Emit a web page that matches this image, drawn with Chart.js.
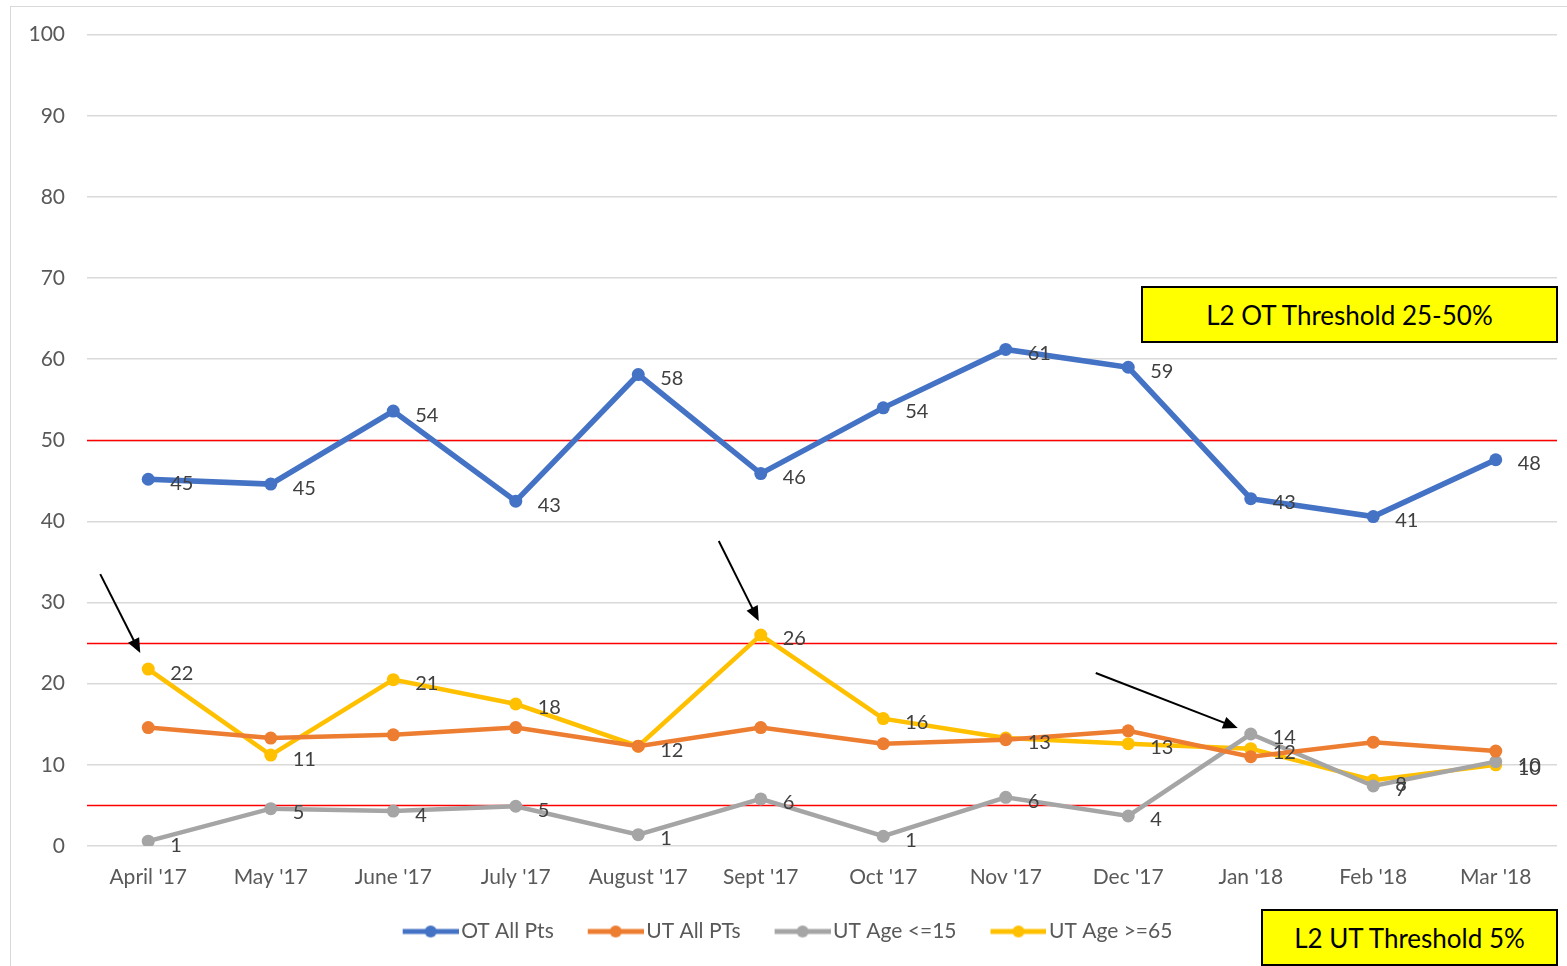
<!DOCTYPE html>
<html>
<head>
<meta charset="utf-8">
<script src="https://cdn.jsdelivr.net/npm/chart.js@4"></script>
<style>
  html, body { margin: 0; padding: 0; background: #fff; }
  #wrap { position: relative; width: 1567px; height: 966px; }
  #frame { position: absolute; left: 10px; top: 6px; width: 1560px; height: 962px; border: 1px solid #d9d9d9; box-sizing: border-box; }
  .note { position: absolute; background: #ffff00; border: 2px solid #000; box-sizing: border-box;
          font-family: Lato, "Open Sans", sans-serif; font-size: 26px; color: #000;
          display: flex; align-items: center; justify-content: center; }
</style>
</head>
<body>
<div id="wrap">
  <div id="frame"></div>
  <canvas id="trendChart" width="1567" height="966"></canvas>
  <div class="note" style="left:1141px;top:286px;width:417px;height:57px;">L2 OT Threshold 25-50%</div>
  <div class="note" style="left:1261px;top:909px;width:297px;height:57px;">L2 UT Threshold 5%</div>
</div>
<script>
// --- data ---
const months = ["April '17", "May '17", "June '17", "July '17", "August '17", "Sept '17",
                "Oct '17", "Nov '17", "Dec '17", "Jan '18", "Feb '18", "Mar '18"];
const otAllPts   = [45.2, 44.6, 53.6, 42.5, 58.1, 45.9, 54.0, 61.2, 59.0, 42.8, 40.6, 47.6];
const utAllPts   = [14.6, 13.3, 13.7, 14.6, 12.3, 14.6, 12.6, 13.1, 14.2, 11.0, 12.8, 11.7];
const utAge15    = [0.6, 4.6, 4.3, 4.9, 1.4, 5.8, 1.2, 6.0, 3.7, 13.8, 7.4, 10.4];
const utAge65    = [21.8, 11.2, 20.5, 17.5, 12.3, 26.0, 15.7, 13.3, 12.6, 12.0, 8.1, 10.0];
const thresholds = [50, 25, 5];
const yTicks     = [0, 10, 20, 30, 40, 50, 60, 70, 80, 90, 100];

const font = 'Lato, "Open Sans", sans-serif';

// legend marker: line with a dot, shifted right so it almost touches the text
const legendMarker = (color) => {
    const c = document.createElement('canvas');
    c.width = 72; c.height = 14;
    const g = c.getContext('2d');
    g.strokeStyle = color; g.lineWidth = 5;
    g.beginPath(); g.moveTo(16, 7); g.lineTo(72, 7); g.stroke();
    g.fillStyle = color;
    g.beginPath(); g.arc(44, 7, 6, 0, Math.PI * 2); g.fill();
    return c;
};

const series = [
    { label: 'OT All Pts',   data: otAllPts, color: '#4472C4', width: 5.5, labels: true },
    { label: 'UT All PTs',   data: utAllPts, color: '#ED7D31', width: 4.5, labels: false },
    { label: 'UT Age <=15',  data: utAge15,  color: '#A5A5A5', width: 4.5, labels: true },
    { label: 'UT Age >=65',  data: utAge65,  color: '#FFC000', width: 4.5, labels: true }
];

// arrows anchored to a data point (dataset, index); tail/tip are pixel offsets
const arrows = [
    { ds: 3, i: 0, tail: [-48, -95], tip: [-8, -16] },
    { ds: 3, i: 5, tail: [-42, -94], tip: [-2, -14] },
    { ds: 2, i: 9, tail: [-155, -61], tip: [-13, -6] }
];

const thresholdLines = {
    id: 'thresholdLines',
    beforeDatasetsDraw(chart) {
        const { ctx, chartArea, scales } = chart;
        ctx.save();
        ctx.strokeStyle = '#ff0000';
        ctx.lineWidth = 1.5;
        thresholds.forEach(v => {
            const y = Math.round(scales.y.getPixelForValue(v)) + 0.5;
            ctx.beginPath();
            ctx.moveTo(chartArea.left, y);
            ctx.lineTo(chartArea.right, y);
            ctx.stroke();
        });
        ctx.restore();
    }
};

const pointLabels = {
    id: 'pointLabels',
    afterDatasetsDraw(chart) {
        const { ctx } = chart;
        ctx.save();
        ctx.font = '20px ' + font;
        ctx.fillStyle = '#404040';
        ctx.textBaseline = 'middle';
        ctx.textAlign = 'left';
        chart.data.datasets.forEach((ds, di) => {
            if (!series[di].labels) return;
            chart.getDatasetMeta(di).data.forEach((pt, i) => {
                ctx.fillText(String(Math.round(ds.data[i])), pt.x + 22, pt.y + 4);
            });
        });
        ctx.restore();
    }
};

const arrowNotes = {
    id: 'arrowNotes',
    afterDraw(chart) {
        const { ctx } = chart;
        ctx.save();
        ctx.strokeStyle = '#000';
        ctx.fillStyle = '#000';
        ctx.lineWidth = 2;
        arrows.forEach(a => {
            const pt = chart.getDatasetMeta(a.ds).data[a.i];
            const x0 = pt.x + a.tail[0], y0 = pt.y + a.tail[1];
            const x1 = pt.x + a.tip[0],  y1 = pt.y + a.tip[1];
            const ang = Math.atan2(y1 - y0, x1 - x0);
            const head = 16, spread = 0.4;
            ctx.beginPath();
            ctx.moveTo(x0, y0);
            ctx.lineTo(x1 - Math.cos(ang) * head * 0.8, y1 - Math.sin(ang) * head * 0.8);
            ctx.stroke();
            ctx.beginPath();
            ctx.moveTo(x1, y1);
            ctx.lineTo(x1 - head * Math.cos(ang - spread), y1 - head * Math.sin(ang - spread));
            ctx.lineTo(x1 - head * Math.cos(ang + spread), y1 - head * Math.sin(ang + spread));
            ctx.closePath();
            ctx.fill();
        });
        ctx.restore();
    }
};

new Chart(document.getElementById('trendChart'), {
    type: 'line',
    data: {
        labels: months,
        datasets: series.map(s => ({
            label: s.label,
            data: s.data,
            borderColor: s.color,
            backgroundColor: s.color,
            borderWidth: s.width,
            pointRadius: 6.5,
            pointHoverRadius: 6.5,
            pointBorderWidth: 0,
            pointStyle: 'circle',
            tension: 0,
            fill: false
        }))
    },
    options: {
        responsive: false,
        animation: false,
        layout: { padding: { left: 10, right: 10, top: 34, bottom: 14 } },
        scales: {
            y: {
                min: 0,
                max: 100,
                afterBuildTicks: (axis) => { axis.ticks = yTicks.map(v => ({ value: v })); },
                afterFit: (axis) => { axis.width = 77; },
                grid: { color: '#d9d9d9', lineWidth: 1.5, drawTicks: false },
                border: { display: false },
                ticks: { color: '#595959', font: { family: font, size: 21 }, padding: 22 }
            },
            x: {
                offset: true,
                afterFit: (axis) => { axis.height = 49; },
                grid: { display: false, offset: true },
                border: { display: false },
                ticks: { color: '#595959', font: { family: font, size: 21 }, padding: 11, maxRotation: 0, autoSkip: false }
            }
        },
        plugins: {
            legend: {
                position: 'bottom',
                labels: {
                    color: '#595959',
                    font: { family: font, size: 21 },
                    usePointStyle: true,
                    pointStyleWidth: 56,
                    padding: 26,
                    generateLabels: (chart) => series.map((s, i) => ({
                        text: s.label,
                        pointStyle: legendMarker(s.color),
                        fillStyle: s.color,
                        strokeStyle: s.color,
                        lineWidth: 0,
                        datasetIndex: i,
                        fontColor: '#595959'
                    }))
                }
            },
            tooltip: { enabled: false }
        }
    },
    plugins: [thresholdLines, pointLabels, arrowNotes]
});
</script>
</body>
</html>
